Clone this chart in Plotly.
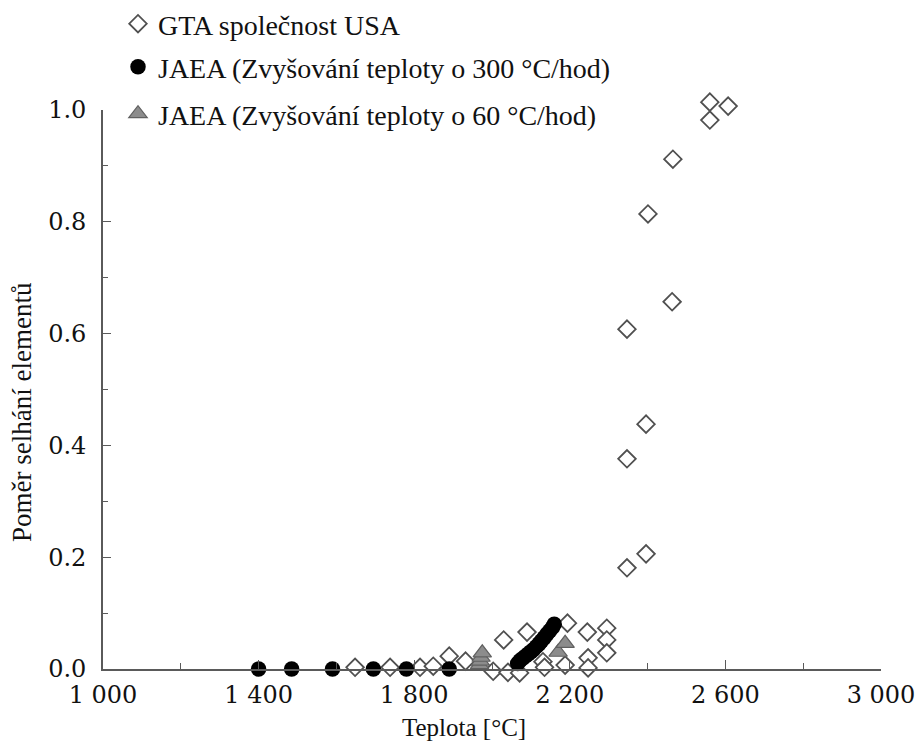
import plotly.graph_objects as go

# ---- data ----
gta_x = [1648, 1738, 1815, 1849, 1890, 1932, 2003, 2030, 2041, 2071, 2090, 2131, 2135,
         2188, 2194, 2245, 2247, 2247, 2295, 2295, 2295,
         2347, 2347, 2347, 2396, 2396, 2401, 2463, 2465, 2560, 2560, 2607]
gta_y = [0.003, 0.003, 0.003, 0.005, 0.023, 0.014, -0.004, 0.052, -0.006, -0.007, 0.066, 0.013, 0.003,
         0.007, 0.082, 0.066, 0.020, 0.002, 0.073, 0.052, 0.029,
         0.181, 0.376, 0.608, 0.206, 0.438, 0.814, 0.657, 0.912, 0.982, 1.014, 1.007]

jaea300_x = [1400, 1485, 1590, 1695, 1780, 1890,
             2066, 2072, 2079, 2086, 2093, 2100, 2107, 2114, 2121, 2127, 2134, 2141, 2148, 2155, 2160]
jaea300_y = [0.0, 0.0, 0.0, 0.0, 0.0, 0.0,
             0.010, 0.015, 0.019, 0.023, 0.027, 0.031, 0.035, 0.040, 0.045, 0.050, 0.056, 0.062, 0.068, 0.074, 0.080]

jaea60_x = [1968, 1970, 1972, 1975, 2170, 2188]
jaea60_y = [0.008, 0.014, 0.021, 0.029, 0.030, 0.046]

x_tickvals = [1000, 1400, 1800, 2200, 2600, 3000]
x_ticktext = ["1 000", "1 400", "1 800", "2 200", "2 600", "3 000"]
x_minor = [1200, 1600, 2000, 2400, 2800]
y_tickvals = [0, 0.2, 0.4, 0.6, 0.8, 1.0]

names = ["GTA společnost USA",
         "JAEA (Zvyšování teploty o 300 °C/hod)",
         "JAEA (Zvyšování teploty o 60 °C/hod)"]

serif = "Liberation Serif, Times New Roman, serif"
numfont = "DejaVu Serif, serif"
axis_col = "#5a5a5a"
txt_col = "#111111"

# ---- geometry (pixels) ----
W, H = 918, 743
x_left_px, x_right_px = 103, 881      # x = 1000 .. 3000
y_zero_px, y_one_px = 669, 110        # y = 0 .. 1
unit_px = y_zero_px - y_one_px
mt, mb = 93, H - 680                  # paper area a bit taller so out-of-range markers show
ml, mr = x_left_px, W - x_right_px
pw = W - ml - mr
ph = H - mt - mb
y_lo = -((H - mb) - y_zero_px) / unit_px
y_hi = 1 + (y_one_px - mt) / unit_px
vis_dom = [((H - mb) - y_zero_px) / ph, ((H - mb) - y_one_px) / ph]


def px2paper_x(px):
    return (px - ml) / pw


def px2paper_y(py):
    return (H - mb - py) / ph


fig = go.Figure()
fig.add_trace(go.Scatter(
    x=gta_x, y=gta_y, mode="markers", name=names[0], legend="legend",
    marker=dict(symbol="diamond", size=13.5, color="white",
                line=dict(color="#505050", width=1.8)),
    cliponaxis=False))
fig.add_trace(go.Scatter(
    x=jaea300_x, y=jaea300_y, mode="markers", name=names[1], legend="legend2",
    marker=dict(symbol="circle", size=15.5, color="#000000",
                line=dict(color="#000000", width=0)),
    cliponaxis=False))
fig.add_trace(go.Scatter(
    x=jaea60_x, y=jaea60_y, mode="markers", name=names[2], legend="legend3",
    marker=dict(symbol="triangle-up", size=16, color="#8c8c8c",
                line=dict(color="#606060", width=1.2)),
    cliponaxis=False))
# empty trace so the visible (frame) axes are drawn
fig.add_trace(go.Scatter(x=[None], y=[None], xaxis="x2", yaxis="y2",
                         mode="markers", showlegend=False, hoverinfo="skip"))

leg_common = dict(font=dict(family=serif, size=28, color=txt_col),
                  bgcolor="rgba(0,0,0,0)", borderwidth=0,
                  xanchor="left", yanchor="middle", itemsizing="trace")

fig.update_layout(
    width=W, height=H,
    margin=dict(l=ml, r=mr, t=mt, b=mb, autoexpand=False),
    paper_bgcolor="white", plot_bgcolor="rgba(0,0,0,0)",
    showlegend=True,
    legend=dict(x=px2paper_x(118), y=px2paper_y(24), **leg_common),
    legend2=dict(x=px2paper_x(118), y=px2paper_y(67), **leg_common),
    legend3=dict(x=px2paper_x(118), y=px2paper_y(114), **leg_common),
    # data axes (invisible), slightly larger than the frame to show markers past 0 and 1
    xaxis=dict(range=[1000, 3000], domain=[0, 1], visible=False),
    yaxis=dict(range=[y_lo, y_hi], domain=[0, 1], visible=False),
    # visible frame axes
    xaxis2=dict(range=[1000, 3000], domain=[0, 1], anchor="y2", showgrid=False, zeroline=False,
                showline=True, linecolor=axis_col, linewidth=1.6,
                ticks="inside", ticklen=9, tickwidth=1.4, tickcolor=axis_col,
                tickvals=x_tickvals, ticktext=x_ticktext,
                tickfont=dict(family=numfont, size=24, color=txt_col),
                ticklabelstandoff=3, ticklabeloverflow="allow",
                minor=dict(tickvals=x_minor, ticks="inside", ticklen=6,
                           tickwidth=1.4, tickcolor=axis_col)),
    yaxis2=dict(range=[0, 1.0], domain=vis_dom, anchor="x2", showgrid=False, zeroline=False,
                showline=True, linecolor=axis_col, linewidth=1.6,
                ticks="inside", ticklen=8, tickwidth=1.4, tickcolor=axis_col,
                tickvals=y_tickvals, tickformat=".1f",
                tickfont=dict(family=numfont, size=24, color=txt_col),
                ticklabelstandoff=10, ticklabeloverflow="allow",
                minor=dict(dtick=0.1, ticks="inside", ticklen=5,
                           tickwidth=1.4, tickcolor=axis_col)),
    annotations=[
        dict(text="Teplota [°C]", xref="paper", yref="paper",
             x=px2paper_x(464), y=px2paper_y(727), xanchor="center", yanchor="middle",
             showarrow=False, font=dict(family=serif, size=25, color=txt_col)),
        dict(text="Poměr selhání elementů", xref="paper", yref="paper",
             x=px2paper_x(22), y=px2paper_y(412), xanchor="center", yanchor="middle",
             textangle=-90, showarrow=False,
             font=dict(family=serif, size=27, color=txt_col)),
    ],
)

fig.write_html("out.html", config={"displayModeBar": False},
               post_script="document.body.style.margin='0px';document.body.style.overflow='hidden';")
